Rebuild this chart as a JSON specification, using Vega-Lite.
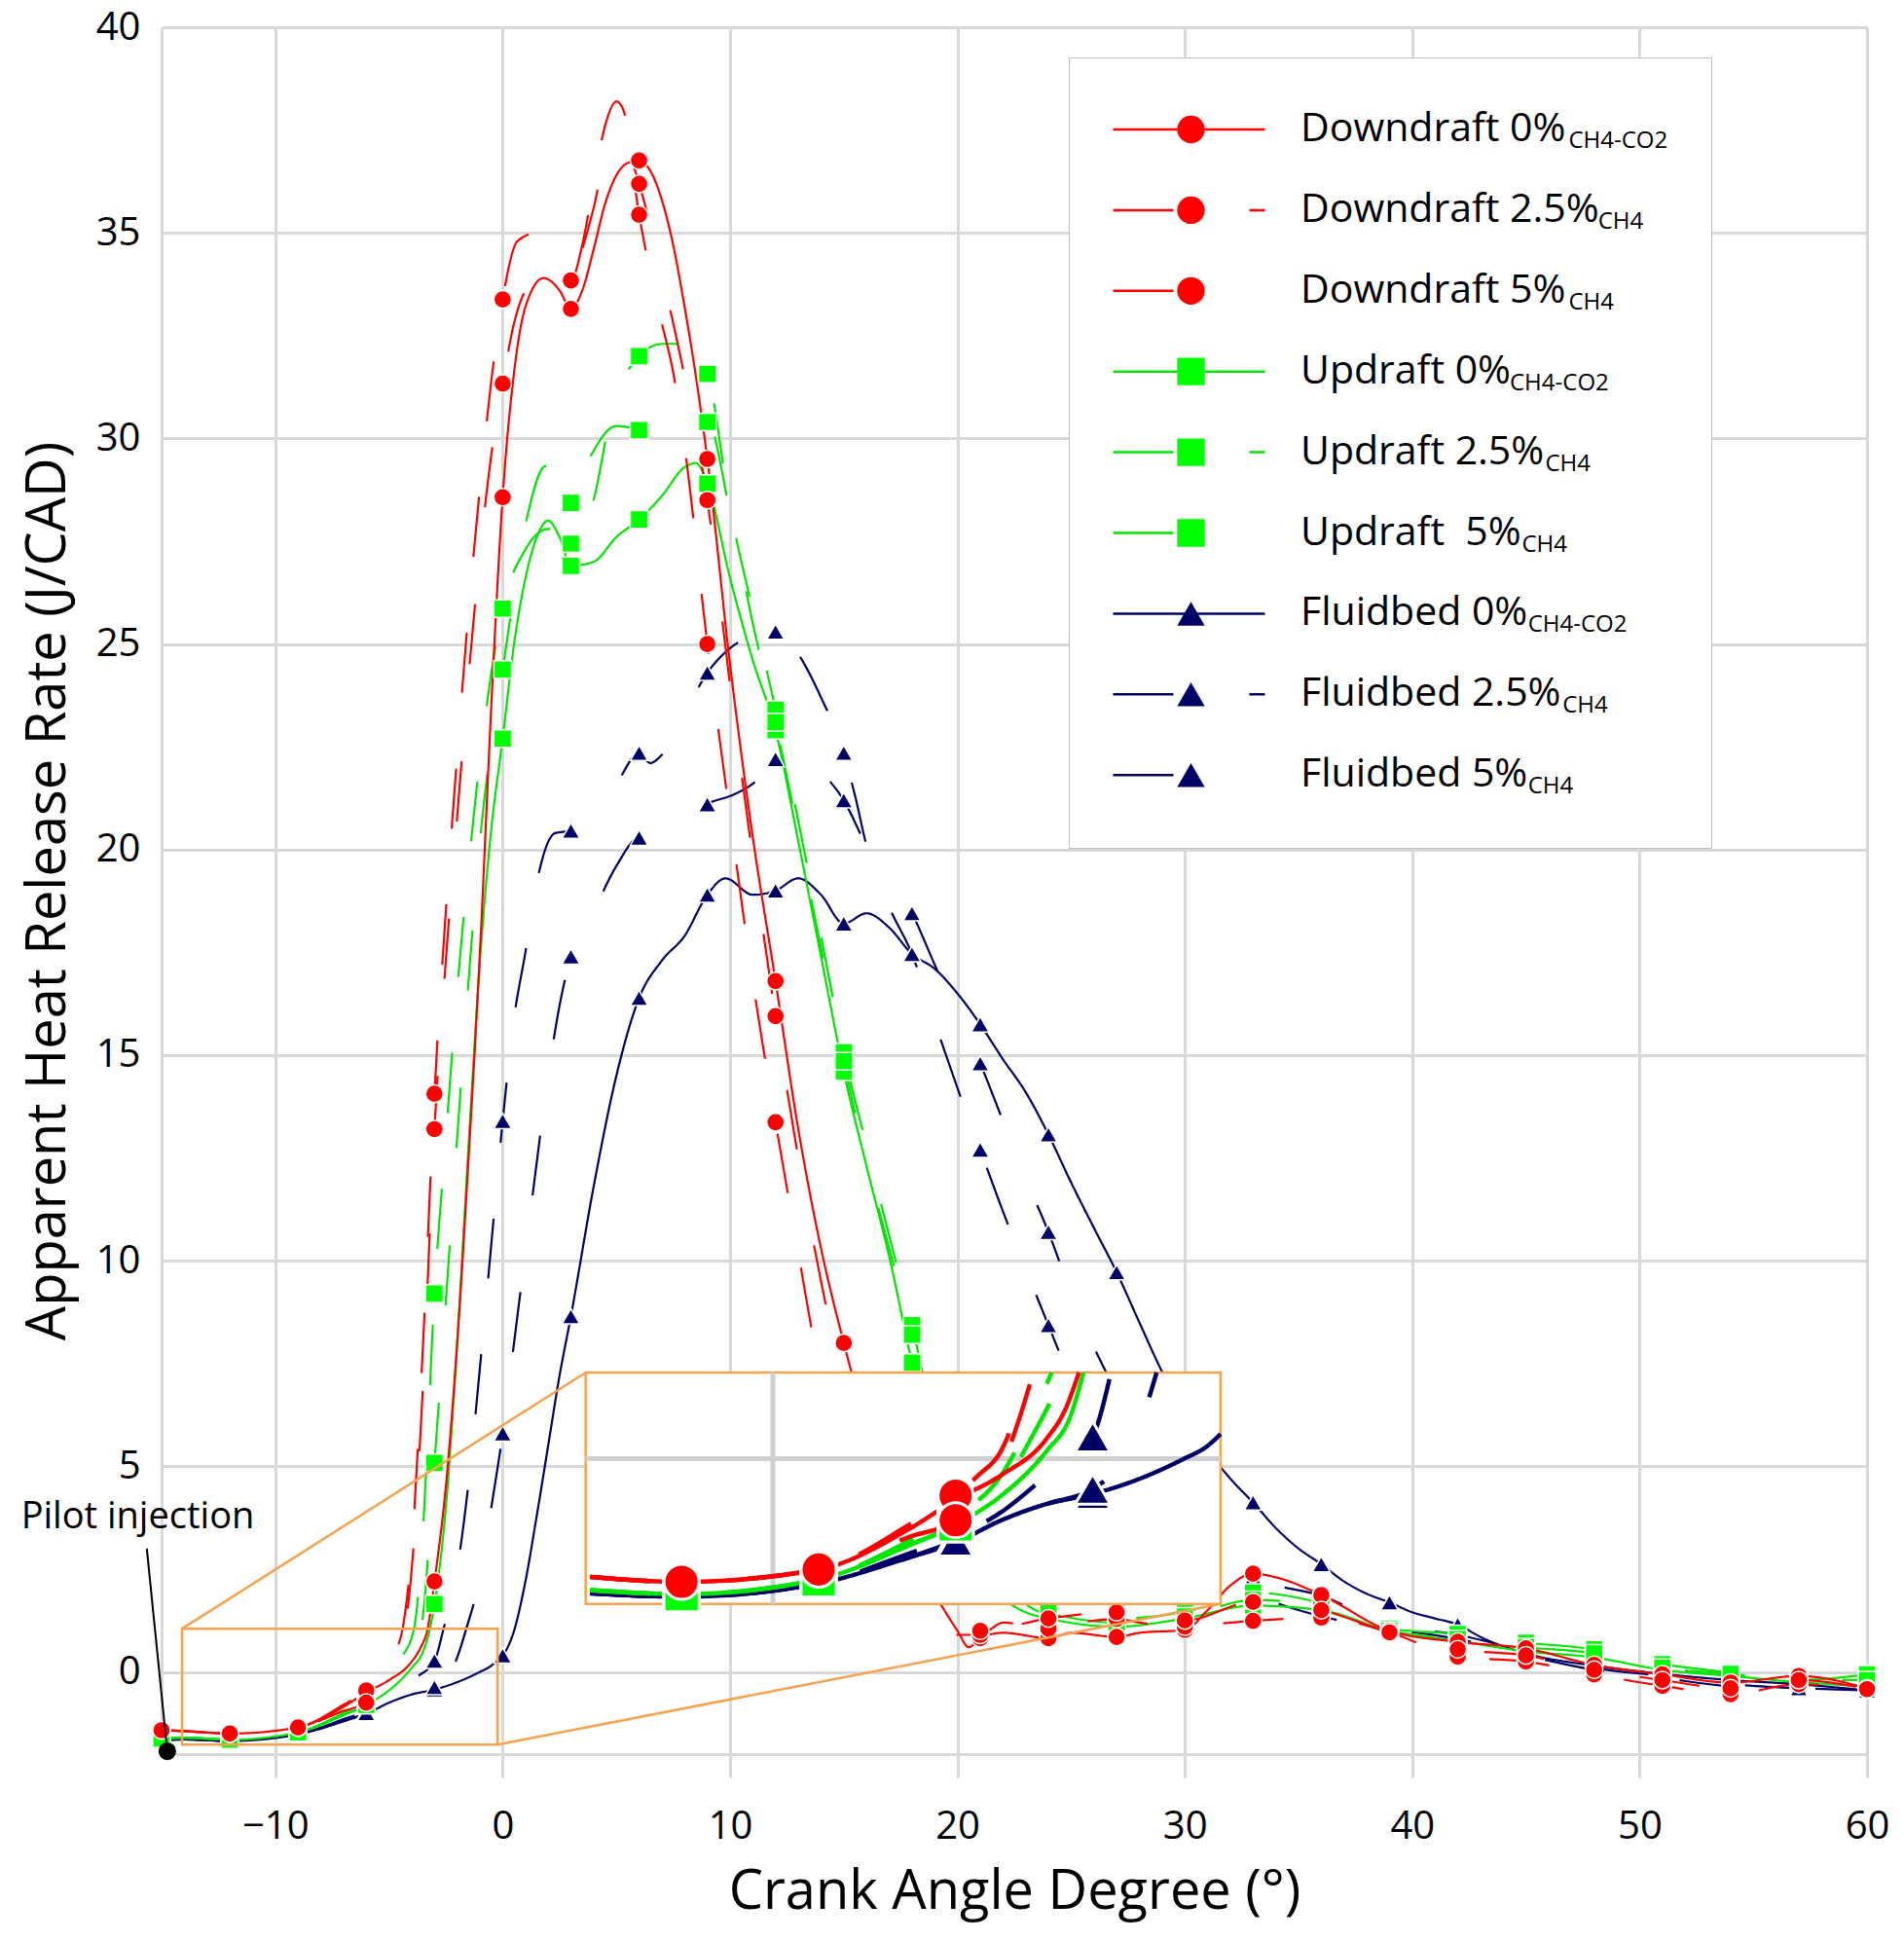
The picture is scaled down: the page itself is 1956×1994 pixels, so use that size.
{
  "$schema": "https://vega.github.io/schema/vega-lite/v6.json",
  "width": 1752,
  "height": 1774,
  "autosize": {"type": "none"},
  "padding": {"left": 166, "top": 28, "right": 38, "bottom": 192},
  "config": {
    "font": "Open Sans",
    "view": {"stroke": null},
    "axis": {
      "labelFont": "Open Sans", "titleFont": "Open Sans",
      "labelColor": "#000", "titleColor": "#000", "titleFontWeight": "normal",
      "gridColor": "#d9d9d9", "gridWidth": 3,
      "domainColor": "#d9d9d9", "domainWidth": 3,
      "tickColor": "#d9d9d9", "tickWidth": 3
    },
    "legend": {"labelFont": "Open Sans", "labelColor": "#000"}
  },
  "datasets": {
    "hrr": [
      {"s":"7F0","x":-15,"y":-1.66},{"s":"7F0","x":-14,"y":-1.64},{"s":"7F0","x":-12,"y":-1.68},{"s":"7F0","x":-9,"y":-1.52},{"s":"7F0","x":-7,"y":-1.2},{"s":"7F0","x":-6,"y":-1.02},{"s":"7F0","x":-5,"y":-0.75},{"s":"7F0","x":-4,"y":-0.55},{"s":"7F0","x":-3,"y":-0.43},{"s":"7F0","x":-2,"y":-0.25},{"s":"7F0","x":-1,"y":0.0},{"s":"7F0","x":-0.5,"y":0.15},{"s":"7F0","x":-0.2,"y":0.3},{"s":"7F0","x":0,"y":0.4},{"s":"7F0","x":0.5,"y":1.0},{"s":"7F0","x":1,"y":2.2},{"s":"7F0","x":1.5,"y":3.8},{"s":"7F0","x":2,"y":5.5},{"s":"7F0","x":2.5,"y":7.2},{"s":"7F0","x":3,"y":8.65},{"s":"7F0","x":4,"y":11.8},{"s":"7F0","x":5,"y":14.5},{"s":"7F0","x":6,"y":16.39},{"s":"7F0","x":7,"y":17.3},{"s":"7F0","x":8,"y":17.9},{"s":"7F0","x":9,"y":18.9},{"s":"7F0","x":9.8,"y":19.3},{"s":"7F0","x":11,"y":18.9},{"s":"7F0","x":12,"y":19.0},{"s":"7F0","x":13,"y":19.3},{"s":"7F0","x":14,"y":18.9},{"s":"7F0","x":15,"y":18.2},{"s":"7F0","x":16,"y":18.45},{"s":"7F0","x":17,"y":18.1},{"s":"7F0","x":18,"y":17.46},{"s":"7F0","x":19,"y":17.1},{"s":"7F0","x":20,"y":16.5},{"s":"7F0","x":21,"y":15.75},{"s":"7F0","x":22,"y":14.9},{"s":"7F0","x":23,"y":14.1},{"s":"7F0","x":24,"y":13.07},{"s":"7F0","x":25,"y":11.9},{"s":"7F0","x":26,"y":10.8},{"s":"7F0","x":27,"y":9.72},{"s":"7F0","x":28,"y":8.5},{"s":"7F0","x":29,"y":7.3},{"s":"7F0","x":30,"y":6.3},{"s":"7F0","x":31,"y":5.4},{"s":"7F0","x":32,"y":4.7},{"s":"7F0","x":33,"y":4.12},{"s":"7F0","x":34,"y":3.5},{"s":"7F0","x":35,"y":3.0},{"s":"7F0","x":36,"y":2.62},{"s":"7F0","x":37,"y":2.2},{"s":"7F0","x":38,"y":1.9},{"s":"7F0","x":39,"y":1.69},{"s":"7F0","x":40,"y":1.45},{"s":"7F0","x":41,"y":1.3},{"s":"7F0","x":42,"y":1.15},{"s":"7F0","x":43,"y":0.85},{"s":"7F0","x":45,"y":0.45},{"s":"7F0","x":48,"y":0.15},{"s":"7F0","x":51,"y":-0.05},{"s":"7F0","x":54,"y":-0.2},{"s":"7F0","x":57,"y":-0.3},{"s":"7F0","x":60,"y":-0.45},

      {"s":"8F25","x":-15,"y":-1.66},{"s":"8F25","x":-14,"y":-1.64},{"s":"8F25","x":-12,"y":-1.68},{"s":"8F25","x":-9,"y":-1.52},{"s":"8F25","x":-7,"y":-1.15},{"s":"8F25","x":-6,"y":-0.95},{"s":"8F25","x":-5,"y":-0.65},{"s":"8F25","x":-4,"y":-0.2},{"s":"8F25","x":-3,"y":0.27},{"s":"8F25","x":-2.6,"y":1.05},{"s":"8F25","x":-2,"y":2.5},{"s":"8F25","x":-1.5,"y":4.6},{"s":"8F25","x":-1,"y":7.4},{"s":"8F25","x":-0.5,"y":10.4},{"s":"8F25","x":0,"y":13.4},{"s":"8F25","x":0.5,"y":15.9},{"s":"8F25","x":1,"y":17.5},{"s":"8F25","x":1.5,"y":19.2},{"s":"8F25","x":2.3,"y":20.4},{"s":"8F25","x":3,"y":20.46},{"s":"8F25","x":3.7,"y":20.7},{"s":"8F25","x":5,"y":21.6},{"s":"8F25","x":6,"y":22.35},{"s":"8F25","x":6.5,"y":22.1},{"s":"8F25","x":7,"y":22.3},{"s":"8F25","x":8,"y":23.3},{"s":"8F25","x":9,"y":24.3},{"s":"8F25","x":10,"y":24.9},{"s":"8F25","x":11,"y":25.2},{"s":"8F25","x":12,"y":25.3},{"s":"8F25","x":13,"y":24.75},{"s":"8F25","x":14,"y":23.7},{"s":"8F25","x":15,"y":22.35},{"s":"8F25","x":15.5,"y":21.3},{"s":"8F25","x":16,"y":20.1},{"s":"8F25","x":17,"y":18.6},{"s":"8F25","x":18,"y":17.46},{"s":"8F25","x":19,"y":15.8},{"s":"8F25","x":20,"y":14.2},{"s":"8F25","x":21,"y":12.7},{"s":"8F25","x":22,"y":11.2},{"s":"8F25","x":23,"y":9.8},{"s":"8F25","x":24,"y":8.43},{"s":"8F25","x":25,"y":7.1},{"s":"8F25","x":26,"y":6.0},{"s":"8F25","x":27,"y":5.0},{"s":"8F25","x":28,"y":4.2},{"s":"8F25","x":30,"y":2.8},{"s":"8F25","x":33,"y":1.9},{"s":"8F25","x":36,"y":1.35},{"s":"8F25","x":39,"y":1.05},{"s":"8F25","x":42,"y":0.8},{"s":"8F25","x":45,"y":0.4},{"s":"8F25","x":48,"y":0.05},{"s":"8F25","x":51,"y":-0.15},{"s":"8F25","x":54,"y":-0.35},{"s":"8F25","x":57,"y":-0.4},{"s":"8F25","x":60,"y":-0.45},

      {"s":"9F5","x":-15,"y":-1.66},{"s":"9F5","x":-14,"y":-1.64},{"s":"9F5","x":-12,"y":-1.68},{"s":"9F5","x":-9,"y":-1.52},{"s":"9F5","x":-7,"y":-1.2},{"s":"9F5","x":-6,"y":-1.0},{"s":"9F5","x":-5,"y":-0.75},{"s":"9F5","x":-4,"y":-0.55},{"s":"9F5","x":-3,"y":-0.37},{"s":"9F5","x":-2,"y":0.35},{"s":"9F5","x":-1.6,"y":1.05},{"s":"9F5","x":-1,"y":2.3},{"s":"9F5","x":-0.5,"y":4.0},{"s":"9F5","x":0,"y":5.8},{"s":"9F5","x":0.5,"y":8.0},{"s":"9F5","x":1,"y":10.2},{"s":"9F5","x":1.5,"y":12.4},{"s":"9F5","x":2,"y":14.5},{"s":"9F5","x":2.5,"y":16.2},{"s":"9F5","x":3,"y":17.4},{"s":"9F5","x":4,"y":18.5},{"s":"9F5","x":5,"y":19.6},{"s":"9F5","x":6,"y":20.29},{"s":"9F5","x":7,"y":20.0},{"s":"9F5","x":7.5,"y":19.9},{"s":"9F5","x":8.7,"y":20.9},{"s":"9F5","x":9,"y":21.1},{"s":"9F5","x":10,"y":21.3},{"s":"9F5","x":11,"y":21.6},{"s":"9F5","x":12,"y":22.2},{"s":"9F5","x":13.2,"y":22.3},{"s":"9F5","x":14,"y":21.9},{"s":"9F5","x":15,"y":21.2},{"s":"9F5","x":16,"y":20.1},{"s":"9F5","x":17,"y":19.3},{"s":"9F5","x":18,"y":18.45},{"s":"9F5","x":19,"y":17.2},{"s":"9F5","x":20,"y":16.0},{"s":"9F5","x":21,"y":14.8},{"s":"9F5","x":22,"y":13.4},{"s":"9F5","x":23,"y":12.0},{"s":"9F5","x":24,"y":10.7},{"s":"9F5","x":25,"y":9.2},{"s":"9F5","x":26,"y":7.9},{"s":"9F5","x":27,"y":6.8},{"s":"9F5","x":28,"y":5.8},{"s":"9F5","x":30,"y":3.6},{"s":"9F5","x":33,"y":2.3},{"s":"9F5","x":36,"y":1.85},{"s":"9F5","x":39,"y":1.15},{"s":"9F5","x":42,"y":0.9},{"s":"9F5","x":45,"y":0.5},{"s":"9F5","x":48,"y":0.1},{"s":"9F5","x":51,"y":-0.1},{"s":"9F5","x":54,"y":-0.3},{"s":"9F5","x":57,"y":-0.4},{"s":"9F5","x":60,"y":-0.45},

      {"s":"4U0","x":-15,"y":-1.62},{"s":"4U0","x":-14,"y":-1.6},{"s":"4U0","x":-12,"y":-1.65},{"s":"4U0","x":-9,"y":-1.47},{"s":"4U0","x":-7,"y":-1.05},{"s":"4U0","x":-6,"y":-0.8},{"s":"4U0","x":-5,"y":-0.45},{"s":"4U0","x":-4,"y":0.1},{"s":"4U0","x":-3.5,"y":0.5},{"s":"4U0","x":-3.2,"y":1.05},{"s":"4U0","x":-3,"y":1.65},{"s":"4U0","x":-2.5,"y":4.0},{"s":"4U0","x":-2,"y":8.0},{"s":"4U0","x":-1.5,"y":12.8},{"s":"4U0","x":-1,"y":17.3},{"s":"4U0","x":-0.5,"y":20.5},{"s":"4U0","x":0,"y":22.7},{"s":"4U0","x":0.5,"y":25.0},{"s":"4U0","x":1,"y":26.6},{"s":"4U0","x":1.5,"y":27.6},{"s":"4U0","x":2,"y":28.0},{"s":"4U0","x":2.5,"y":27.6},{"s":"4U0","x":3,"y":26.9},{"s":"4U0","x":4,"y":27.0},{"s":"4U0","x":5,"y":27.6},{"s":"4U0","x":6,"y":28.03},{"s":"4U0","x":7,"y":28.6},{"s":"4U0","x":8,"y":29.3},{"s":"4U0","x":8.5,"y":29.4},{"s":"4U0","x":9,"y":28.9},{"s":"4U0","x":10,"y":26.6},{"s":"4U0","x":11,"y":24.6},{"s":"4U0","x":12,"y":22.9},{"s":"4U0","x":13,"y":20.2},{"s":"4U0","x":14,"y":17.4},{"s":"4U0","x":15,"y":14.6},{"s":"4U0","x":16,"y":12.3},{"s":"4U0","x":17,"y":10.1},{"s":"4U0","x":18,"y":7.52},{"s":"4U0","x":19,"y":5.3},{"s":"4U0","x":20,"y":3.6},{"s":"4U0","x":21,"y":2.5},{"s":"4U0","x":22,"y":1.8},{"s":"4U0","x":23,"y":1.45},{"s":"4U0","x":24,"y":1.3},{"s":"4U0","x":27,"y":1.1},{"s":"4U0","x":30,"y":1.3},{"s":"4U0","x":33,"y":1.61},{"s":"4U0","x":36,"y":1.5},{"s":"4U0","x":39,"y":1.0},{"s":"4U0","x":42,"y":0.75},{"s":"4U0","x":45,"y":0.5},{"s":"4U0","x":48,"y":0.35},{"s":"4U0","x":51,"y":0.05},{"s":"4U0","x":54,"y":-0.1},{"s":"4U0","x":57,"y":-0.25},{"s":"4U0","x":60,"y":-0.35},

      {"s":"5U25","x":-15,"y":-1.62},{"s":"5U25","x":-14,"y":-1.6},{"s":"5U25","x":-12,"y":-1.65},{"s":"5U25","x":-9,"y":-1.47},{"s":"5U25","x":-7,"y":-1.0},{"s":"5U25","x":-6,"y":-0.7},{"s":"5U25","x":-5,"y":-0.2},{"s":"5U25","x":-4.5,"y":0.3},{"s":"5U25","x":-3.9,"y":1.05},{"s":"5U25","x":-3.5,"y":3.5},{"s":"5U25","x":-3,"y":9.2},{"s":"5U25","x":-2.5,"y":13.0},{"s":"5U25","x":-2,"y":16.6},{"s":"5U25","x":-1.5,"y":19.6},{"s":"5U25","x":-1,"y":22.2},{"s":"5U25","x":-0.5,"y":24.3},{"s":"5U25","x":0,"y":25.86},{"s":"5U25","x":1,"y":27.3},{"s":"5U25","x":2,"y":27.8},{"s":"5U25","x":3,"y":27.44},{"s":"5U25","x":4,"y":28.5},{"s":"5U25","x":4.7,"y":30.4},{"s":"5U25","x":5,"y":31.0},{"s":"5U25","x":6,"y":32.0},{"s":"5U25","x":7,"y":32.3},{"s":"5U25","x":8,"y":32.3},{"s":"5U25","x":9,"y":31.57},{"s":"5U25","x":10,"y":28.3},{"s":"5U25","x":11,"y":25.8},{"s":"5U25","x":12,"y":23.4},{"s":"5U25","x":13,"y":20.7},{"s":"5U25","x":14,"y":17.9},{"s":"5U25","x":15,"y":15.07},{"s":"5U25","x":16,"y":12.8},{"s":"5U25","x":17,"y":10.6},{"s":"5U25","x":18,"y":8.43},{"s":"5U25","x":19,"y":6.0},{"s":"5U25","x":20,"y":4.2},{"s":"5U25","x":21,"y":3.0},{"s":"5U25","x":22,"y":2.2},{"s":"5U25","x":24,"y":1.4},{"s":"5U25","x":27,"y":1.3},{"s":"5U25","x":30,"y":1.45},{"s":"5U25","x":33,"y":1.93},{"s":"5U25","x":36,"y":1.67},{"s":"5U25","x":39,"y":1.05},{"s":"5U25","x":42,"y":0.92},{"s":"5U25","x":45,"y":0.71},{"s":"5U25","x":48,"y":0.55},{"s":"5U25","x":51,"y":0.19},{"s":"5U25","x":54,"y":-0.02},{"s":"5U25","x":57,"y":-0.2},{"s":"5U25","x":60,"y":-0.06},

      {"s":"6U5","x":-15,"y":-1.62},{"s":"6U5","x":-14,"y":-1.6},{"s":"6U5","x":-12,"y":-1.65},{"s":"6U5","x":-9,"y":-1.47},{"s":"6U5","x":-7,"y":-1.05},{"s":"6U5","x":-6,"y":-0.8},{"s":"6U5","x":-5,"y":-0.35},{"s":"6U5","x":-4.2,"y":0.4},{"s":"6U5","x":-3.6,"y":1.05},{"s":"6U5","x":-3,"y":5.08},{"s":"6U5","x":-2.5,"y":9.0},{"s":"6U5","x":-2,"y":13.0},{"s":"6U5","x":-1.5,"y":16.8},{"s":"6U5","x":-1,"y":20.2},{"s":"6U5","x":-0.5,"y":22.6},{"s":"6U5","x":0,"y":24.38},{"s":"6U5","x":1,"y":27.9},{"s":"6U5","x":1.9,"y":29.33},{"s":"6U5","x":2.5,"y":29.0},{"s":"6U5","x":3,"y":28.43},{"s":"6U5","x":3.9,"y":29.6},{"s":"6U5","x":5,"y":30.3},{"s":"6U5","x":6,"y":30.2},{"s":"6U5","x":7,"y":29.9},{"s":"6U5","x":8,"y":30.2},{"s":"6U5","x":9,"y":30.4},{"s":"6U5","x":10,"y":28.2},{"s":"6U5","x":11,"y":25.5},{"s":"6U5","x":12,"y":23.1},{"s":"6U5","x":13,"y":20.4},{"s":"6U5","x":14,"y":17.6},{"s":"6U5","x":15,"y":14.85},{"s":"6U5","x":16,"y":12.4},{"s":"6U5","x":17,"y":10.3},{"s":"6U5","x":18,"y":8.2},{"s":"6U5","x":19,"y":5.8},{"s":"6U5","x":20,"y":4.0},{"s":"6U5","x":21,"y":2.8},{"s":"6U5","x":22,"y":2.0},{"s":"6U5","x":24,"y":1.45},{"s":"6U5","x":27,"y":1.2},{"s":"6U5","x":30,"y":1.35},{"s":"6U5","x":33,"y":1.75},{"s":"6U5","x":36,"y":1.6},{"s":"6U5","x":39,"y":1.0},{"s":"6U5","x":42,"y":0.8},{"s":"6U5","x":45,"y":0.6},{"s":"6U5","x":48,"y":0.45},{"s":"6U5","x":51,"y":0.1},{"s":"6U5","x":54,"y":-0.05},{"s":"6U5","x":57,"y":-0.2},{"s":"6U5","x":60,"y":-0.2},

      {"s":"1D0","x":-15,"y":-1.42},{"s":"1D0","x":-14,"y":-1.44},{"s":"1D0","x":-12,"y":-1.5},{"s":"1D0","x":-9,"y":-1.35},{"s":"1D0","x":-7,"y":-0.85},{"s":"1D0","x":-6,"y":-0.5},{"s":"1D0","x":-5,"y":-0.2},{"s":"1D0","x":-4,"y":0.25},{"s":"1D0","x":-3.6,"y":0.6},{"s":"1D0","x":-3.3,"y":1.05},{"s":"1D0","x":-3,"y":2.2},{"s":"1D0","x":-2.5,"y":4.5},{"s":"1D0","x":-2,"y":8.0},{"s":"1D0","x":-1.5,"y":12.5},{"s":"1D0","x":-1,"y":17.5},{"s":"1D0","x":-0.5,"y":23.5},{"s":"1D0","x":0,"y":28.57},{"s":"1D0","x":0.5,"y":31.6},{"s":"1D0","x":1,"y":33.2},{"s":"1D0","x":1.8,"y":33.9},{"s":"1D0","x":2.5,"y":33.6},{"s":"1D0","x":3,"y":33.15},{"s":"1D0","x":3.5,"y":33.6},{"s":"1D0","x":4,"y":34.6},{"s":"1D0","x":4.5,"y":35.7},{"s":"1D0","x":5,"y":36.4},{"s":"1D0","x":5.5,"y":36.7},{"s":"1D0","x":6,"y":36.76},{"s":"1D0","x":6.5,"y":36.5},{"s":"1D0","x":7,"y":35.8},{"s":"1D0","x":7.5,"y":34.7},{"s":"1D0","x":8,"y":33.2},{"s":"1D0","x":8.5,"y":31.5},{"s":"1D0","x":9,"y":29.5},{"s":"1D0","x":10,"y":24.5},{"s":"1D0","x":11,"y":20.3},{"s":"1D0","x":12,"y":16.8},{"s":"1D0","x":13,"y":13.2},{"s":"1D0","x":14,"y":10.3},{"s":"1D0","x":15,"y":8.0},{"s":"1D0","x":16,"y":6.0},{"s":"1D0","x":17,"y":4.3},{"s":"1D0","x":18,"y":3.0},{"s":"1D0","x":19,"y":1.9},{"s":"1D0","x":20,"y":1.0},{"s":"1D0","x":20.5,"y":0.6},{"s":"1D0","x":21,"y":0.82},{"s":"1D0","x":22,"y":0.95},{"s":"1D0","x":24,"y":0.82},{"s":"1D0","x":25,"y":0.95},{"s":"1D0","x":27,"y":0.85},{"s":"1D0","x":28,"y":0.95},{"s":"1D0","x":30,"y":1.02},{"s":"1D0","x":31,"y":1.5},{"s":"1D0","x":32,"y":2.1},{"s":"1D0","x":33,"y":2.39},{"s":"1D0","x":34,"y":2.3},{"s":"1D0","x":36,"y":1.87},{"s":"1D0","x":39,"y":1.0},{"s":"1D0","x":42,"y":0.73},{"s":"1D0","x":45,"y":0.57},{"s":"1D0","x":48,"y":0.17},{"s":"1D0","x":51,"y":-0.06},{"s":"1D0","x":54,"y":-0.26},{"s":"1D0","x":57,"y":-0.1},{"s":"1D0","x":60,"y":-0.4},

      {"s":"2D25","x":-15,"y":-1.42},{"s":"2D25","x":-14,"y":-1.44},{"s":"2D25","x":-12,"y":-1.5},{"s":"2D25","x":-9,"y":-1.35},{"s":"2D25","x":-7,"y":-0.8},{"s":"2D25","x":-6,"y":-0.45},{"s":"2D25","x":-5.5,"y":-0.2},{"s":"2D25","x":-5,"y":0.1},{"s":"2D25","x":-4.7,"y":0.5},{"s":"2D25","x":-4.4,"y":1.05},{"s":"2D25","x":-4,"y":3.0},{"s":"2D25","x":-3.5,"y":8.0},{"s":"2D25","x":-3,"y":14.06},{"s":"2D25","x":-2.5,"y":18.5},{"s":"2D25","x":-2,"y":22.3},{"s":"2D25","x":-1.5,"y":25.8},{"s":"2D25","x":-1,"y":28.8},{"s":"2D25","x":-0.5,"y":31.4},{"s":"2D25","x":0,"y":33.38},{"s":"2D25","x":0.65,"y":34.8},{"s":"2D25","x":1.5,"y":35.0},{"s":"2D25","x":2.2,"y":34.4},{"s":"2D25","x":2.7,"y":34.0},{"s":"2D25","x":3,"y":33.84},{"s":"2D25","x":3.5,"y":34.7},{"s":"2D25","x":4,"y":36.2},{"s":"2D25","x":4.5,"y":37.6},{"s":"2D25","x":5,"y":38.2},{"s":"2D25","x":5.3,"y":38.0},{"s":"2D25","x":6,"y":35.44},{"s":"2D25","x":6.5,"y":34.0},{"s":"2D25","x":7,"y":32.8},{"s":"2D25","x":7.5,"y":31.6},{"s":"2D25","x":8,"y":29.8},{"s":"2D25","x":9,"y":25.0},{"s":"2D25","x":10,"y":20.8},{"s":"2D25","x":11,"y":16.8},{"s":"2D25","x":12,"y":13.37},{"s":"2D25","x":13,"y":10.2},{"s":"2D25","x":13.7,"y":8.0},{"s":"2D25","x":14,"y":7.2},{"s":"2D25","x":15,"y":5.2},{"s":"2D25","x":16,"y":3.8},{"s":"2D25","x":17,"y":2.7},{"s":"2D25","x":18,"y":1.9},{"s":"2D25","x":19,"y":1.3},{"s":"2D25","x":20,"y":0.9},{"s":"2D25","x":21,"y":0.9},{"s":"2D25","x":22,"y":1.2},{"s":"2D25","x":24,"y":1.05},{"s":"2D25","x":26,"y":1.25},{"s":"2D25","x":27,"y":1.29},{"s":"2D25","x":28,"y":1.2},{"s":"2D25","x":30,"y":1.1},{"s":"2D25","x":31,"y":1.15},{"s":"2D25","x":33,"y":1.24},{"s":"2D25","x":36,"y":1.32},{"s":"2D25","x":39,"y":0.96},{"s":"2D25","x":42,"y":0.37},{"s":"2D25","x":45,"y":0.25},{"s":"2D25","x":48,"y":-0.06},{"s":"2D25","x":51,"y":-0.34},{"s":"2D25","x":54,"y":-0.54},{"s":"2D25","x":57,"y":-0.3},{"s":"2D25","x":60,"y":-0.42},

      {"s":"3D5","x":-15,"y":-1.42},{"s":"3D5","x":-14,"y":-1.44},{"s":"3D5","x":-12,"y":-1.5},{"s":"3D5","x":-9,"y":-1.35},{"s":"3D5","x":-7,"y":-0.95},{"s":"3D5","x":-6,"y":-0.75},{"s":"3D5","x":-5.5,"y":-0.45},{"s":"3D5","x":-5,"y":-0.1},{"s":"3D5","x":-4.6,"y":0.5},{"s":"3D5","x":-4.3,"y":1.05},{"s":"3D5","x":-4,"y":2.5},{"s":"3D5","x":-3.5,"y":7.0},{"s":"3D5","x":-3,"y":13.2},{"s":"3D5","x":-2.5,"y":17.3},{"s":"3D5","x":-2,"y":20.8},{"s":"3D5","x":-1.5,"y":24.2},{"s":"3D5","x":-1,"y":27.2},{"s":"3D5","x":-0.5,"y":29.6},{"s":"3D5","x":0,"y":31.33},{"s":"3D5","x":0.5,"y":32.8},{"s":"3D5","x":1,"y":33.6},{"s":"3D5","x":1.8,"y":34.0},{"s":"3D5","x":2.5,"y":33.7},{"s":"3D5","x":3,"y":33.84},{"s":"3D5","x":3.5,"y":34.6},{"s":"3D5","x":4,"y":35.6},{"s":"3D5","x":4.8,"y":37.5},{"s":"3D5","x":5.3,"y":37.3},{"s":"3D5","x":6,"y":36.19},{"s":"3D5","x":7,"y":34.0},{"s":"3D5","x":8,"y":31.5},{"s":"3D5","x":9,"y":28.5},{"s":"3D5","x":10,"y":24.0},{"s":"3D5","x":11,"y":19.8},{"s":"3D5","x":12,"y":15.95},{"s":"3D5","x":13,"y":12.5},{"s":"3D5","x":14,"y":9.5},{"s":"3D5","x":15,"y":7.0},{"s":"3D5","x":16,"y":5.2},{"s":"3D5","x":17,"y":3.8},{"s":"3D5","x":18,"y":2.8},{"s":"3D5","x":19,"y":2.0},{"s":"3D5","x":20,"y":1.6},{"s":"3D5","x":21,"y":1.0},{"s":"3D5","x":24,"y":1.3},{"s":"3D5","x":27,"y":1.45},{"s":"3D5","x":30,"y":1.25},{"s":"3D5","x":33,"y":1.7},{"s":"3D5","x":36,"y":1.5},{"s":"3D5","x":39,"y":0.96},{"s":"3D5","x":42,"y":0.55},{"s":"3D5","x":45,"y":0.4},{"s":"3D5","x":48,"y":0.05},{"s":"3D5","x":51,"y":-0.2},{"s":"3D5","x":54,"y":-0.4},{"s":"3D5","x":57,"y":-0.2},{"s":"3D5","x":60,"y":-0.42}
    ],
    "inset_box": [{"x": 3.65, "x2": 31.57, "y": 1.65, "y2": 7.28}],
    "zoom_box": [{"x": -14.1, "x2": -0.22, "y": -1.77, "y2": 1.05}],
    "links": [
      {"x": -14.1, "y": 1.05, "x2": 3.65, "y2": 7.28},
      {"x": -0.22, "y": -1.77, "x2": 31.57, "y2": 1.65}
    ],
    "pilot": [{"x": -14.75, "y": -1.93, "x2": -15.65, "y2": 3.0}],
    "pilot_label": [{"x": -16.05, "y": 3.75, "label": "Pilot injection"}],
    "inset_grid": [
      {"x": -10, "x2": -10, "y": -1.77, "y2": 1.05},
      {"x": -14.1, "x2": -0.2, "y": 0, "y2": 0}
    ]
  },
  "layer": [
    {
      "layer": [
        {
          "data": {"name": "hrr"},
          "mark": {"type": "line", "interpolate": "monotone", "strokeWidth": 2.2},
          "encoding": {
            "x": {
              "field": "x", "type": "quantitative",
              "scale": {"domain": [-15, 60], "nice": false, "zero": false},
              "axis": {
                "values": [-10, 0, 10, 20, 30, 40, 50, 60],
                "title": "Crank Angle Degree (°)", "titleFontSize": 56, "titlePadding": 20,
                "labelFontSize": 40, "labelPadding": 30, "tickSize": 24,
                "labelFlush": false, "labelOverlap": false
              }
            },
            "y": {
              "field": "y", "type": "quantitative",
              "scale": {"domain": [-2, 40], "nice": false, "zero": false},
              "axis": {
                "values": [0, 5, 10, 15, 20, 25, 30, 35, 40],
                "title": "Apparent Heat Release Rate (J/CAD)", "titleFontSize": 56, "titlePadding": 20,
                "labelFontSize": 40, "labelPadding": 22, "tickSize": 0,
                "labelOverlap": false
              }
            },
            "stroke": {
              "field": "s", "type": "nominal",
              "scale": {"range": ["#ff0000", "#ff0000", "#ff0000", "#00e600", "#00e600", "#00e600", "#000066", "#000066", "#000066"]},
              "legend": {
                "title": null, "orient": "none", "legendX": 932, "legendY": 31, "zindex": 1,
                "symbolType": "stroke", "symbolSize": 24336, "symbolStrokeWidth": 2.5,
                "padding": 44, "fillColor": "white", "strokeColor": "#bfbfbf",
                "clipHeight": 60, "rowPadding": 22.9,
                "labelFontSize": 24, "labelOffset": 34, "labelLimit": 0, "labelBaseline": "top",
                "labelExpr": "['\u200b\u2003\u2003\u2003\u2003\u2003\u2003\u2003\u2003\u2003\u2003\u2003\u00a0\u00a0CH4-CO2', '\u200b\u2003\u2003\u2003\u2003\u2003\u2003\u2003\u2003\u2003\u2003\u2003\u2003\u00a0\u00a0\u00a0CH4', '\u200b\u2003\u2003\u2003\u2003\u2003\u2003\u2003\u2003\u2003\u2003\u2003\u00a0\u00a0CH4', '\u200b\u2003\u2003\u2003\u2003\u2003\u2003\u2003\u2003\u2003CH4-CO2', '\u200b\u2003\u2003\u2003\u2003\u2003\u2003\u2003\u2003\u2003\u2003\u00a0\u00a0CH4', '\u200b\u2003\u2003\u2003\u2003\u2003\u2003\u2003\u2003\u2003\u00a0\u00a0CH4', '\u200b\u2003\u2003\u2003\u2003\u2003\u2003\u2003\u2003\u2003\u00a0\u00a0\u00a0CH4-CO2', '\u200b\u2003\u2003\u2003\u2003\u2003\u2003\u2003\u2003\u2003\u2003\u2003\u00a0CH4', '\u200b\u2003\u2003\u2003\u2003\u2003\u2003\u2003\u2003\u2003\u00a0\u00a0\u00a0CH4'][indexof(['1D0','2D25','3D5','4U0','5U25','6U5','7F0','8F25','9F5'], datum.value)]"
              }
            },
            "strokeDash": {
              "field": "s", "type": "nominal",
              "scale": {"range": [[1, 0], [62, 78], [62, 100], [1, 0], [62, 78], [62, 100], [1, 0], [62, 78], [62, 100]]},
              "legend": {
                "title": null, "orient": "none", "legendX": 932, "legendY": 31, "zindex": 1,
                "symbolType": "stroke", "symbolSize": 24336, "symbolStrokeWidth": 2.5,
                "padding": 44, "fillColor": "white", "strokeColor": "#bfbfbf",
                "clipHeight": 60, "rowPadding": 22.9,
                "labelFontSize": 24, "labelOffset": 34, "labelLimit": 0, "labelBaseline": "top",
                "labelExpr": "['\u200b\u2003\u2003\u2003\u2003\u2003\u2003\u2003\u2003\u2003\u2003\u2003\u00a0\u00a0CH4-CO2', '\u200b\u2003\u2003\u2003\u2003\u2003\u2003\u2003\u2003\u2003\u2003\u2003\u2003\u00a0\u00a0\u00a0CH4', '\u200b\u2003\u2003\u2003\u2003\u2003\u2003\u2003\u2003\u2003\u2003\u2003\u00a0\u00a0CH4', '\u200b\u2003\u2003\u2003\u2003\u2003\u2003\u2003\u2003\u2003CH4-CO2', '\u200b\u2003\u2003\u2003\u2003\u2003\u2003\u2003\u2003\u2003\u2003\u00a0\u00a0CH4', '\u200b\u2003\u2003\u2003\u2003\u2003\u2003\u2003\u2003\u2003\u00a0\u00a0CH4', '\u200b\u2003\u2003\u2003\u2003\u2003\u2003\u2003\u2003\u2003\u00a0\u00a0\u00a0CH4-CO2', '\u200b\u2003\u2003\u2003\u2003\u2003\u2003\u2003\u2003\u2003\u2003\u2003\u00a0CH4', '\u200b\u2003\u2003\u2003\u2003\u2003\u2003\u2003\u2003\u2003\u00a0\u00a0\u00a0CH4'][indexof(['1D0','2D25','3D5','4U0','5U25','6U5','7F0','8F25','9F5'], datum.value)]"
              }
            }
          }
        },
        {
          "data": {"name": "hrr"},
          "transform": [{"filter": "datum.x % 3 == 0"}],
          "mark": {"type": "point", "filled": true, "size": 330, "stroke": "white", "strokeWidth": 1.5, "opacity": 1},
          "encoding": {
            "x": {"field": "x", "type": "quantitative"},
            "y": {"field": "y", "type": "quantitative"},
            "fill": {
              "field": "s", "type": "nominal",
              "scale": {"range": ["#ff0000", "#ff0000", "#ff0000", "#00ff00", "#00ff00", "#00ff00", "#000066", "#000066", "#000066"]},
              "legend": {
                "title": null, "orient": "none", "legendX": 993, "legendY": 31, "zindex": 2,
                "symbolSize": 800, "symbolStrokeWidth": 1.5, "symbolStrokeColor": "white",
                "padding": 44, "clipHeight": 60, "rowPadding": 22.9,
                "labelFontSize": 41, "labelOffset": 92, "labelLimit": 0,
                "labelExpr": "['Downdraft 0%','Downdraft 2.5%','Downdraft 5%','Updraft 0%','Updraft 2.5%','Updraft\u00a0 5%','Fluidbed 0%','Fluidbed 2.5%','Fluidbed 5%'][indexof(['1D0','2D25','3D5','4U0','5U25','6U5','7F0','8F25','9F5'], datum.value)]"
              }
            },
            "shape": {
              "field": "s", "type": "nominal",
              "scale": {"range": ["circle", "circle", "circle", "square", "square", "square", "triangle-up", "triangle-up", "triangle-up"]},
              "legend": {
                "title": null, "orient": "none", "legendX": 993, "legendY": 31, "zindex": 2,
                "symbolSize": 800, "symbolStrokeWidth": 1.5, "symbolStrokeColor": "white",
                "padding": 44, "clipHeight": 60, "rowPadding": 22.9,
                "labelFontSize": 41, "labelOffset": 92, "labelLimit": 0,
                "labelExpr": "['Downdraft 0%','Downdraft 2.5%','Downdraft 5%','Updraft 0%','Updraft 2.5%','Updraft\u00a0 5%','Fluidbed 0%','Fluidbed 2.5%','Fluidbed 5%'][indexof(['1D0','2D25','3D5','4U0','5U25','6U5','7F0','8F25','9F5'], datum.value)]"
              }
            }
          }
        },
        {
          "data": {"name": "links"},
          "mark": {"type": "rule", "stroke": "#f7a24c", "strokeWidth": 2.5},
          "encoding": {
            "x": {"field": "x", "type": "quantitative"}, "y": {"field": "y", "type": "quantitative"},
            "x2": {"field": "x2"}, "y2": {"field": "y2"}
          }
        },
        {
          "data": {"name": "zoom_box"},
          "mark": {"type": "rect", "filled": false, "stroke": "#f7a24c", "strokeWidth": 2.5},
          "encoding": {
            "x": {"field": "x", "type": "quantitative"}, "y": {"field": "y", "type": "quantitative"},
            "x2": {"field": "x2"}, "y2": {"field": "y2"}
          }
        },
        {
          "data": {"name": "inset_box"},
          "mark": {"type": "rect", "fill": "white", "stroke": "#f7a24c", "strokeWidth": 2.5},
          "encoding": {
            "x": {"field": "x", "type": "quantitative"}, "y": {"field": "y", "type": "quantitative"},
            "x2": {"field": "x2"}, "y2": {"field": "y2"}
          }
        },
        {
          "data": {"name": "pilot"},
          "mark": {"type": "rule", "stroke": "black", "strokeWidth": 2},
          "encoding": {
            "x": {"field": "x", "type": "quantitative"}, "y": {"field": "y", "type": "quantitative"},
            "x2": {"field": "x2"}, "y2": {"field": "y2"}
          }
        },
        {
          "data": {"name": "pilot"},
          "mark": {"type": "point", "filled": true, "fill": "black", "size": 330, "opacity": 1},
          "encoding": {
            "x": {"field": "x", "type": "quantitative"}, "y": {"field": "y", "type": "quantitative"}
          }
        },
        {
          "data": {"name": "pilot_label"},
          "mark": {"type": "text", "fontSize": 38, "font": "Open Sans", "align": "center", "baseline": "middle", "color": "black"},
          "encoding": {
            "x": {"field": "x", "type": "quantitative"}, "y": {"field": "y", "type": "quantitative"},
            "text": {"field": "label"}
          }
        }
      ]
    },
    {
      "encoding": {
        "x": {"field": "x", "type": "quantitative", "axis": null,
              "scale": {"domain": [-14.1, -0.2], "range": [435.66, 1087.88], "nice": false, "zero": false}},
        "y": {"field": "y", "type": "quantitative", "axis": null,
              "scale": {"domain": [-1.77, 1.05], "range": [1619.8, 1382.0], "nice": false, "zero": false}}
      },
      "layer": [
        {
          "data": {"name": "inset_grid"},
          "mark": {"type": "rule", "stroke": "#d0d0d0", "strokeWidth": 5},
          "encoding": {"x2": {"field": "x2"}, "y2": {"field": "y2"}}
        },
        {
          "data": {"name": "hrr"},
          "transform": [{"filter": "datum.x >= -14 && datum.x <= -0.2 && datum.y <= 1.05"}],
          "mark": {"type": "line", "interpolate": "monotone", "strokeWidth": 4.5},
          "encoding": {
            "stroke": {"field": "s", "type": "nominal"},
            "strokeDash": {"field": "s", "type": "nominal"}
          }
        },
        {
          "data": {"name": "hrr"},
          "transform": [{"filter": "datum.x % 3 == 0 && datum.x >= -14 && datum.x <= -0.2 && datum.y <= 1.05"}],
          "mark": {"type": "point", "filled": true, "size": 1300, "stroke": "white", "strokeWidth": 3, "opacity": 1},
          "encoding": {
            "fill": {"field": "s", "type": "nominal"},
            "shape": {"field": "s", "type": "nominal"}
          }
        }
      ]
    }
  ],
  "resolve": {"scale": {"x": "independent", "y": "independent"}}
}
